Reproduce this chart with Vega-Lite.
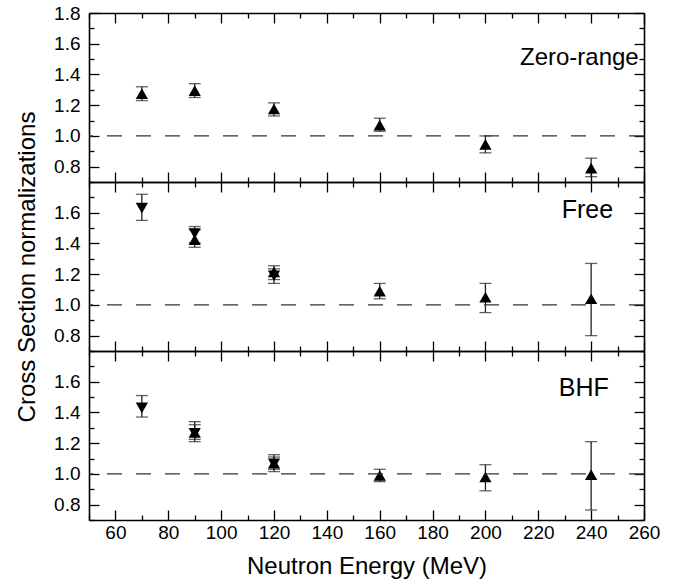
{
  "$schema": "https://vega.github.io/schema/vega-lite/v6.json",
  "padding": {"left": 15, "top": 4, "right": 5, "bottom": 5},
  "spacing": 0,
  "bounds": "flush",
  "datasets": {
    "pts": [
      {"panel": "Zero-range", "E": 70, "v": 1.275, "lo": 1.23, "hi": 1.32, "shape": "up"},
      {"panel": "Zero-range", "E": 90, "v": 1.295, "lo": 1.25, "hi": 1.34, "shape": "up"},
      {"panel": "Zero-range", "E": 120, "v": 1.175, "lo": 1.13, "hi": 1.215, "shape": "up"},
      {"panel": "Zero-range", "E": 160, "v": 1.07, "lo": 1.03, "hi": 1.115, "shape": "up"},
      {"panel": "Zero-range", "E": 200, "v": 0.945, "lo": 0.89, "hi": 1.0, "shape": "up"},
      {"panel": "Zero-range", "E": 240, "v": 0.79, "lo": 0.735, "hi": 0.855, "shape": "up"},
      {"panel": "Free", "E": 70, "v": 1.63, "lo": 1.55, "hi": 1.72, "shape": "down"},
      {"panel": "Free", "E": 90, "v": 1.465, "lo": 1.405, "hi": 1.51, "shape": "down"},
      {"panel": "Free", "E": 90, "v": 1.425, "lo": 1.375, "hi": 1.49, "shape": "up"},
      {"panel": "Free", "E": 120, "v": 1.215, "lo": 1.165, "hi": 1.255, "shape": "up"},
      {"panel": "Free", "E": 120, "v": 1.19, "lo": 1.14, "hi": 1.235, "shape": "down"},
      {"panel": "Free", "E": 160, "v": 1.09, "lo": 1.04, "hi": 1.14, "shape": "up"},
      {"panel": "Free", "E": 200, "v": 1.05, "lo": 0.95, "hi": 1.14, "shape": "up"},
      {"panel": "Free", "E": 240, "v": 1.04, "lo": 0.8, "hi": 1.27, "shape": "up"},
      {"panel": "BHF", "E": 70, "v": 1.43, "lo": 1.37, "hi": 1.51, "shape": "down"},
      {"panel": "BHF", "E": 90, "v": 1.27, "lo": 1.21, "hi": 1.32, "shape": "up"},
      {"panel": "BHF", "E": 90, "v": 1.265, "lo": 1.225, "hi": 1.34, "shape": "down"},
      {"panel": "BHF", "E": 120, "v": 1.07, "lo": 1.015, "hi": 1.11, "shape": "up"},
      {"panel": "BHF", "E": 120, "v": 1.065, "lo": 1.03, "hi": 1.125, "shape": "down"},
      {"panel": "BHF", "E": 160, "v": 0.99, "lo": 0.95, "hi": 1.03, "shape": "up"},
      {"panel": "BHF", "E": 200, "v": 0.98, "lo": 0.89, "hi": 1.06, "shape": "up"},
      {"panel": "BHF", "E": 240, "v": 0.995, "lo": 0.765, "hi": 1.21, "shape": "up"}
    ],
    "lbl": [
      {"panel": "Zero-range", "lx": 258, "ly": 1.51},
      {"panel": "Free", "lx": 248.3, "ly": 1.62},
      {"panel": "BHF", "lx": 246.7, "ly": 1.56}
    ]
  },
  "vconcat": [
    {
      "width": 555, "height": 169,
      "layer": [
        {
          "data": {"name": "pts"}, "transform": [{"filter": "datum.panel == 'Zero-range'"}],
          "mark": {"type": "rule", "color": "#222", "strokeWidth": 1.3},
          "encoding": {
            "x": {"field": "E", "type": "quantitative", "scale": {"domain": [50, 260], "nice": false, "zero": false},
              "axis": {"title": null, "labels": false, "values": [60,80,100,120,140,160,180,200,220,240,260]}},
            "y": {"field": "lo", "type": "quantitative", "scale": {"domain": [0.7, 1.8], "nice": false, "zero": false},
              "axis": {"title": null, "format": ".1f", "values": [0.8,1.0,1.2,1.4,1.6,1.8]}},
            "y2": {"field": "hi"}
          }
        },
        {
          "data": {"name": "pts"}, "transform": [{"filter": "datum.panel == 'Zero-range'"}],
          "mark": {"type": "tick", "orient": "horizontal", "size": 12, "thickness": 1.3, "color": "#222"},
          "encoding": {
            "x": {"field": "E", "type": "quantitative", "scale": {"domain": [50, 260], "nice": false, "zero": false},
              "axis": {"orient": "bottom", "title": null, "labels": false, "domain": false, "tickSize": -5, "values": [50,70,90,110,130,150,170,190,210,230,250]}},
            "y": {"field": "lo", "type": "quantitative", "scale": {"domain": [0.7, 1.8], "nice": false, "zero": false},
              "axis": {"orient": "left", "title": null, "labels": false, "domain": false, "tickSize": -5, "values": [0.7,0.9,1.1,1.3,1.5,1.7]}}
          }
        },
        {
          "data": {"name": "pts"}, "transform": [{"filter": "datum.panel == 'Zero-range'"}],
          "mark": {"type": "tick", "orient": "horizontal", "size": 12, "thickness": 1.3, "color": "#222"},
          "encoding": {
            "x": {"field": "E", "type": "quantitative", "scale": {"domain": [50, 260], "nice": false, "zero": false},
              "axis": {"orient": "top", "title": null, "labels": false, "domain": false, "tickSize": -5, "values": [50,70,90,110,130,150,170,190,210,230,250]}},
            "y": {"field": "hi", "type": "quantitative", "scale": {"domain": [0.7, 1.8], "nice": false, "zero": false},
              "axis": {"orient": "right", "title": null, "labels": false, "domain": false, "tickSize": -5, "values": [0.7,0.9,1.1,1.3,1.5,1.7]}}
          }
        },
        {
          "data": {"name": "pts"}, "transform": [{"filter": "datum.panel == 'Zero-range'"}],
          "mark": {"type": "point", "filled": true, "size": 150, "color": "black", "opacity": 1},
          "encoding": {
            "x": {"field": "E", "type": "quantitative", "scale": {"domain": [50, 260], "nice": false, "zero": false}, "axis": null},
            "y": {"field": "v", "type": "quantitative", "scale": {"domain": [0.7, 1.8], "nice": false, "zero": false}, "axis": null},
            "shape": {"field": "shape", "type": "nominal", "scale": {"domain": ["up", "down"], "range": ["triangle-up", "triangle-down"]}, "legend": null}
          }
        },
        {
          "data": {"name": "lbl"}, "transform": [{"filter": "datum.panel == 'Zero-range'"}],
          "mark": {"type": "rule", "strokeDash": [15, 14], "color": "#333", "strokeWidth": 1.3},
          "encoding": {"y": {"datum": 1, "type": "quantitative", "scale": {"domain": [0.7, 1.8], "nice": false, "zero": false}, "axis": null}}
        },
        {
          "data": {"name": "lbl"}, "transform": [{"filter": "datum.panel == 'Zero-range'"}],
          "mark": {"type": "text", "align": "right", "baseline": "middle", "fontSize": 24, "font": "Liberation Sans", "color": "black"},
          "encoding": {
            "x": {"field": "lx", "type": "quantitative", "scale": {"domain": [50, 260], "nice": false, "zero": false},
              "axis": {"orient": "top", "title": null, "labels": false, "values": [60,80,100,120,140,160,180,200,220,240,260]}},
            "y": {"field": "ly", "type": "quantitative", "scale": {"domain": [0.7, 1.8], "nice": false, "zero": false},
              "axis": {"orient": "right", "title": null, "labels": false, "values": [0.8,1.0,1.2,1.4,1.6,1.8]}},
            "text": {"field": "panel"}
          }
        }
      ],
      "resolve": {"scale": {"x": "independent", "y": "independent"}}
    },
    {
      "width": 555, "height": 169,
      "layer": [
        {
          "data": {"name": "pts"}, "transform": [{"filter": "datum.panel == 'Free'"}],
          "mark": {"type": "rule", "color": "#222", "strokeWidth": 1.3},
          "encoding": {
            "x": {"field": "E", "type": "quantitative", "scale": {"domain": [50, 260], "nice": false, "zero": false},
              "axis": {"title": null, "labels": false, "values": [60,80,100,120,140,160,180,200,220,240,260]}},
            "y": {"field": "lo", "type": "quantitative", "scale": {"domain": [0.7, 1.8], "nice": false, "zero": false},
              "axis": {"title": "Cross Section normalizations", "titlePadding": 14, "format": ".1f", "values": [0.8,1.0,1.2,1.4,1.6]}},
            "y2": {"field": "hi"}
          }
        },
        {
          "data": {"name": "pts"}, "transform": [{"filter": "datum.panel == 'Free'"}],
          "mark": {"type": "tick", "orient": "horizontal", "size": 12, "thickness": 1.3, "color": "#222"},
          "encoding": {
            "x": {"field": "E", "type": "quantitative", "scale": {"domain": [50, 260], "nice": false, "zero": false},
              "axis": {"orient": "bottom", "title": null, "labels": false, "domain": false, "tickSize": -5, "values": [50,70,90,110,130,150,170,190,210,230,250]}},
            "y": {"field": "lo", "type": "quantitative", "scale": {"domain": [0.7, 1.8], "nice": false, "zero": false},
              "axis": {"orient": "left", "title": null, "labels": false, "domain": false, "tickSize": -5, "values": [0.7,0.9,1.1,1.3,1.5,1.7]}}
          }
        },
        {
          "data": {"name": "pts"}, "transform": [{"filter": "datum.panel == 'Free'"}],
          "mark": {"type": "tick", "orient": "horizontal", "size": 12, "thickness": 1.3, "color": "#222"},
          "encoding": {
            "x": {"field": "E", "type": "quantitative", "scale": {"domain": [50, 260], "nice": false, "zero": false},
              "axis": {"orient": "top", "title": null, "labels": false, "domain": false, "tickSize": -5, "values": [50,70,90,110,130,150,170,190,210,230,250]}},
            "y": {"field": "hi", "type": "quantitative", "scale": {"domain": [0.7, 1.8], "nice": false, "zero": false},
              "axis": {"orient": "right", "title": null, "labels": false, "domain": false, "tickSize": -5, "values": [0.7,0.9,1.1,1.3,1.5,1.7]}}
          }
        },
        {
          "data": {"name": "pts"}, "transform": [{"filter": "datum.panel == 'Free'"}],
          "mark": {"type": "point", "filled": true, "size": 150, "color": "black", "opacity": 1},
          "encoding": {
            "x": {"field": "E", "type": "quantitative", "scale": {"domain": [50, 260], "nice": false, "zero": false}, "axis": null},
            "y": {"field": "v", "type": "quantitative", "scale": {"domain": [0.7, 1.8], "nice": false, "zero": false}, "axis": null},
            "shape": {"field": "shape", "type": "nominal", "scale": {"domain": ["up", "down"], "range": ["triangle-up", "triangle-down"]}, "legend": null}
          }
        },
        {
          "data": {"name": "lbl"}, "transform": [{"filter": "datum.panel == 'Free'"}],
          "mark": {"type": "rule", "strokeDash": [15, 14], "color": "#333", "strokeWidth": 1.3},
          "encoding": {"y": {"datum": 1, "type": "quantitative", "scale": {"domain": [0.7, 1.8], "nice": false, "zero": false}, "axis": null}}
        },
        {
          "data": {"name": "lbl"}, "transform": [{"filter": "datum.panel == 'Free'"}],
          "mark": {"type": "text", "align": "right", "baseline": "middle", "fontSize": 25, "font": "Liberation Sans", "color": "black"},
          "encoding": {
            "x": {"field": "lx", "type": "quantitative", "scale": {"domain": [50, 260], "nice": false, "zero": false},
              "axis": {"orient": "top", "title": null, "labels": false, "values": [60,80,100,120,140,160,180,200,220,240,260]}},
            "y": {"field": "ly", "type": "quantitative", "scale": {"domain": [0.7, 1.8], "nice": false, "zero": false},
              "axis": {"orient": "right", "title": null, "labels": false, "values": [0.8,1.0,1.2,1.4,1.6]}},
            "text": {"field": "panel"}
          }
        }
      ],
      "resolve": {"scale": {"x": "independent", "y": "independent"}}
    },
    {
      "width": 555, "height": 169,
      "layer": [
        {
          "data": {"name": "pts"}, "transform": [{"filter": "datum.panel == 'BHF'"}],
          "mark": {"type": "rule", "color": "#222", "strokeWidth": 1.3},
          "encoding": {
            "x": {"field": "E", "type": "quantitative", "scale": {"domain": [50, 260], "nice": false, "zero": false},
              "axis": {"title": "Neutron Energy (MeV)", "titlePadding": 12, "labelPadding": 13, "format": "d", "values": [60,80,100,120,140,160,180,200,220,240,260]}},
            "y": {"field": "lo", "type": "quantitative", "scale": {"domain": [0.7, 1.8], "nice": false, "zero": false},
              "axis": {"title": null, "format": ".1f", "values": [0.8,1.0,1.2,1.4,1.6]}},
            "y2": {"field": "hi"}
          }
        },
        {
          "data": {"name": "pts"}, "transform": [{"filter": "datum.panel == 'BHF'"}],
          "mark": {"type": "tick", "orient": "horizontal", "size": 12, "thickness": 1.3, "color": "#222"},
          "encoding": {
            "x": {"field": "E", "type": "quantitative", "scale": {"domain": [50, 260], "nice": false, "zero": false},
              "axis": {"orient": "bottom", "title": null, "labels": false, "domain": false, "tickSize": -5, "values": [50,70,90,110,130,150,170,190,210,230,250]}},
            "y": {"field": "lo", "type": "quantitative", "scale": {"domain": [0.7, 1.8], "nice": false, "zero": false},
              "axis": {"orient": "left", "title": null, "labels": false, "domain": false, "tickSize": -5, "values": [0.7,0.9,1.1,1.3,1.5,1.7]}}
          }
        },
        {
          "data": {"name": "pts"}, "transform": [{"filter": "datum.panel == 'BHF'"}],
          "mark": {"type": "tick", "orient": "horizontal", "size": 12, "thickness": 1.3, "color": "#222"},
          "encoding": {
            "x": {"field": "E", "type": "quantitative", "scale": {"domain": [50, 260], "nice": false, "zero": false},
              "axis": {"orient": "top", "title": null, "labels": false, "domain": false, "tickSize": -5, "values": [50,70,90,110,130,150,170,190,210,230,250]}},
            "y": {"field": "hi", "type": "quantitative", "scale": {"domain": [0.7, 1.8], "nice": false, "zero": false},
              "axis": {"orient": "right", "title": null, "labels": false, "domain": false, "tickSize": -5, "values": [0.7,0.9,1.1,1.3,1.5,1.7]}}
          }
        },
        {
          "data": {"name": "pts"}, "transform": [{"filter": "datum.panel == 'BHF'"}],
          "mark": {"type": "point", "filled": true, "size": 150, "color": "black", "opacity": 1},
          "encoding": {
            "x": {"field": "E", "type": "quantitative", "scale": {"domain": [50, 260], "nice": false, "zero": false}, "axis": null},
            "y": {"field": "v", "type": "quantitative", "scale": {"domain": [0.7, 1.8], "nice": false, "zero": false}, "axis": null},
            "shape": {"field": "shape", "type": "nominal", "scale": {"domain": ["up", "down"], "range": ["triangle-up", "triangle-down"]}, "legend": null}
          }
        },
        {
          "data": {"name": "lbl"}, "transform": [{"filter": "datum.panel == 'BHF'"}],
          "mark": {"type": "rule", "strokeDash": [15, 14], "color": "#333", "strokeWidth": 1.3},
          "encoding": {"y": {"datum": 1, "type": "quantitative", "scale": {"domain": [0.7, 1.8], "nice": false, "zero": false}, "axis": null}}
        },
        {
          "data": {"name": "lbl"}, "transform": [{"filter": "datum.panel == 'BHF'"}],
          "mark": {"type": "text", "align": "right", "baseline": "middle", "fontSize": 25, "font": "Liberation Sans", "color": "black"},
          "encoding": {
            "x": {"field": "lx", "type": "quantitative", "scale": {"domain": [50, 260], "nice": false, "zero": false},
              "axis": {"orient": "top", "title": null, "labels": false, "values": [60,80,100,120,140,160,180,200,220,240,260]}},
            "y": {"field": "ly", "type": "quantitative", "scale": {"domain": [0.7, 1.8], "nice": false, "zero": false},
              "axis": {"orient": "right", "title": null, "labels": false, "values": [0.8,1.0,1.2,1.4,1.6]}},
            "text": {"field": "panel"}
          }
        }
      ],
      "resolve": {"scale": {"x": "independent", "y": "independent"}}
    }
  ],
  "config": {
    "font": "Liberation Sans",
    "view": {"stroke": null},
    "axis": {
      "grid": false,
      "domainColor": "black",
      "domainWidth": 1.6,
      "tickColor": "black",
      "tickWidth": 1.3,
      "tickSize": -10,
      "labelPadding": 19,
      "labelOverlap": false,
      "labelFlush": false,
      "labelFont": "Liberation Sans",
      "labelFontSize": 19,
      "labelColor": "black",
      "titleFont": "Liberation Sans",
      "titleFontSize": 24,
      "titleFontWeight": "normal",
      "titleColor": "black"
    }
  }
}
